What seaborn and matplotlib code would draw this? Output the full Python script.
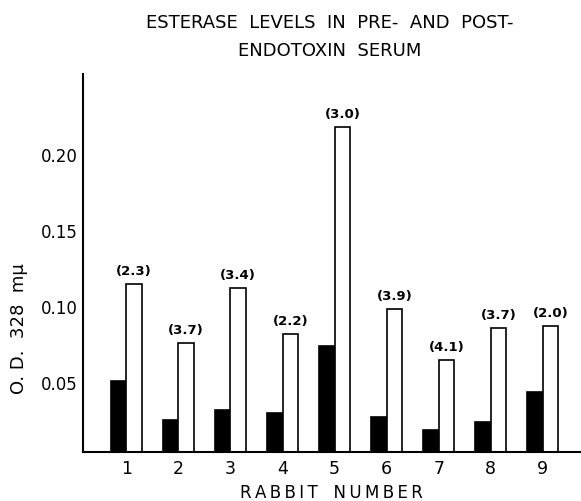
import pandas as pd
import seaborn as sns
from matplotlib import pyplot as plt

# values
rabbits = ['1', '2', '3', '4', '5', '6', '7', '8', '9']
pre_od = [0.051, 0.025, 0.032, 0.030, 0.074, 0.027, 0.0185, 0.024, 0.044]
post_od = [0.115, 0.076, 0.112, 0.082, 0.218, 0.098, 0.065, 0.086, 0.087]
ratios = ['(2.3)', '(3.7)', '(3.4)', '(2.2)', '(3.0)', '(3.9)', '(4.1)', '(3.7)', '(2.0)']
y_ticks = [0.05, 0.10, 0.15, 0.20]

sns.set_style('white')
plt.rcParams['font.family'] = ['DejaVu Sans']
plt.rcParams['text.color'] = 'black'
plt.rcParams['xtick.color'] = 'black'
plt.rcParams['ytick.color'] = 'black'
plt.rcParams['axes.labelcolor'] = 'black'

df = pd.DataFrame({
    'rabbit': rabbits * 2,
    'od': pre_od + post_od,
    'serum': ['pre'] * len(rabbits) + ['post'] * len(rabbits),
})

fig = plt.figure(figsize=(5.81, 5.02), dpi=100)
ax = fig.add_axes([0.143, 0.097, 0.855, 0.754])

sns.barplot(data=df, x='rabbit', y='od', hue='serum', palette=['black', 'white'],
            edgecolor='black', linewidth=1.2, width=0.6, gap=0, legend=False,
            errorbar=None, ax=ax)

# post/pre ratio above the white bars
ax.bar_label(ax.containers[1], labels=ratios, padding=5, fontsize=9.5,
             fontweight='bold')

ax.set_ylim(0.004, 0.253)
ax.set_xlim(-0.83, 8.71)
ax.set_yticks(y_ticks)
ax.set_yticklabels(['%.2f' % t for t in y_ticks], fontsize=12)
ax.tick_params(axis='y', direction='in', length=9, width=1.2, pad=4)
ax.tick_params(axis='x', length=0, labelsize=12.5, pad=5)

sns.despine(ax=ax)
for s in ['left', 'bottom']:
    ax.spines[s].set_linewidth(1.5)
    ax.spines[s].set_color('black')

# spaced-out lettering like the original
xlab = '\u2009'.join('RABBIT') + '   ' + '\u2009'.join('NUMBER')
ax.set_xlabel(xlab, fontsize=12, labelpad=4)
ax.set_ylabel('O. D.  328  m\u03bc', fontsize=13)
ax.yaxis.set_label_coords(-0.11, 0.33)
fig.text(0.568, 0.955, 'ESTERASE  LEVELS  IN  PRE-  AND  POST-', ha='center',
         va='center', fontsize=13)
fig.text(0.568, 0.898, 'ENDOTOXIN  SERUM', ha='center', va='center', fontsize=13)

fig.savefig('out.png', dpi=100)
